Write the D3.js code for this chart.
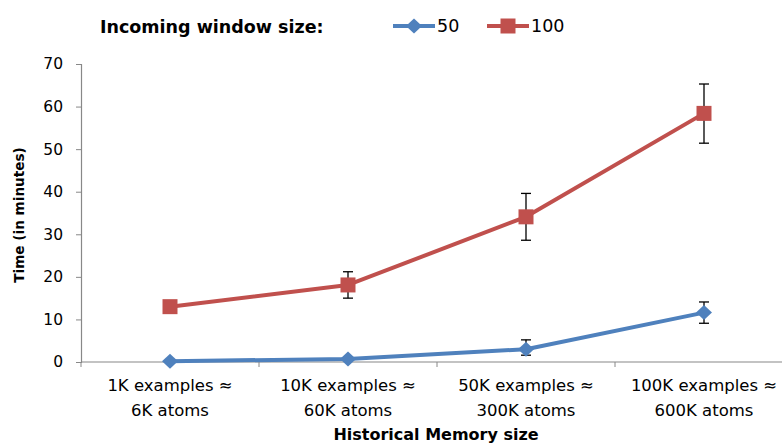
<!DOCTYPE html>
<html>
<head>
<meta charset="utf-8">
<script src="https://cdn.jsdelivr.net/npm/d3@7"></script>
<style>
  body { margin: 0; background: #fff; }
  svg { display: block; font-family: "DejaVu Sans", sans-serif; }
</style>
</head>
<body>
<div id="chart"></div>
<script>
const WIDTH = 782;
const HEIGHT = 444;

const categories = [
  ["1K examples \u2248", "6K atoms"],
  ["10K examples \u2248", "60K atoms"],
  ["50K examples \u2248", "300K atoms"],
  ["100K examples \u2248", "600K atoms"]
];
const yTicks = [0, 10, 20, 30, 40, 50, 60, 70];

const series50 = [0.2, 0.7, 3.0, 11.6];
const err50Low = [0.2, 0.7, 1.6, 9.1];
const err50High = [0.2, 0.7, 5.2, 14.1];

const series100 = [13.0, 18.1, 34.1, 58.4];
const err100Low = [13.0, 15.0, 28.6, 51.4];
const err100High = [13.0, 21.2, 39.6, 65.3];

const BLUE = "#4F81BD";
const RED = "#C0504D";
const AXIS = "#888";

const margin = { left: 81, top: 64, bottom: 82 };
const plotBottom = HEIGHT - margin.bottom; // 362

const svg = d3.select("#chart").append("svg")
  .attr("width", WIDTH)
  .attr("height", HEIGHT);

const x = d3.scaleBand()
  .domain(d3.range(categories.length))
  .range([margin.left, margin.left + 178 * categories.length])
  .padding(0);

const y = d3.scaleLinear()
  .domain([0, 70])
  .range([plotBottom, margin.top]);

// y axis
const yAxis = svg.append("g")
  .attr("transform", `translate(${margin.left},0)`)
  .call(d3.axisLeft(y).tickValues(yTicks).tickSize(5).tickPadding(13));
yAxis.select(".domain").attr("stroke", AXIS).attr("stroke-width", 1.2);
yAxis.selectAll(".tick line").attr("stroke", AXIS);
yAxis.selectAll(".tick text")
  .attr("font-size", 15.5)
  .attr("fill", "#000")
  .attr("font-family", "DejaVu Sans, sans-serif");

// x axis line and category boundary ticks
const xg = svg.append("g");
xg.append("line")
  .attr("x1", margin.left).attr("x2", WIDTH)
  .attr("y1", y(0)).attr("y2", y(0))
  .attr("stroke", AXIS).attr("stroke-width", 1.2);
xg.selectAll("line.tk")
  .data(d3.range(categories.length + 1))
  .join("line")
  .attr("class", "tk")
  .attr("x1", i => margin.left + x.step() * i)
  .attr("x2", i => margin.left + x.step() * i)
  .attr("y1", y(0)).attr("y2", y(0) + 5)
  .attr("stroke", AXIS);

const xLabels = xg.selectAll("text.cat")
  .data(categories)
  .join("text")
  .attr("class", "cat")
  .attr("text-anchor", "middle")
  .attr("font-size", 16.5)
  .attr("fill", "#000");
xLabels.selectAll("tspan")
  .data((d, i) => d.map(t => ({ t, i })))
  .join("tspan")
  .attr("x", d => x(d.i) + x.bandwidth() / 2)
  .attr("y", (d, j) => 391 + j * 25)
  .text(d => d.t);

// axis titles
svg.append("text")
  .attr("x", 436).attr("y", 440)
  .attr("text-anchor", "middle")
  .attr("font-size", 16)
  .attr("font-weight", "bold")
  .text("Historical Memory size");

svg.append("text")
  .attr("transform", `translate(24,${(y(0) + y(70)) / 2 + 2}) rotate(-90)`)
  .attr("text-anchor", "middle")
  .attr("font-size", 13.6)
  .attr("font-weight", "bold")
  .text("Time (in minutes)");

const cx = i => x(i) + x.bandwidth() / 2;

const line = d3.line()
  .x((d, i) => cx(i))
  .y(d => y(d));

function drawSeries(values, lo, hi, color, shape) {
  const g = svg.append("g");
  g.append("path")
    .datum(values)
    .attr("d", line)
    .attr("fill", "none")
    .attr("stroke", color)
    .attr("stroke-width", 4)
    .attr("stroke-linejoin", "round");

  const eb = g.selectAll("g.err")
    .data(values.map((v, i) => ({ i, lo: lo[i], hi: hi[i] })).filter(d => d.hi - d.lo > 0.5))
    .join("g").attr("class", "err");
  eb.append("line")
    .attr("x1", d => cx(d.i)).attr("x2", d => cx(d.i))
    .attr("y1", d => y(d.lo)).attr("y2", d => y(d.hi))
    .attr("stroke", "#000").attr("stroke-width", 1.3);
  eb.append("line")
    .attr("x1", d => cx(d.i) - 5).attr("x2", d => cx(d.i) + 5)
    .attr("y1", d => y(d.lo)).attr("y2", d => y(d.lo))
    .attr("stroke", "#000").attr("stroke-width", 1.3);
  eb.append("line")
    .attr("x1", d => cx(d.i) - 5).attr("x2", d => cx(d.i) + 5)
    .attr("y1", d => y(d.hi)).attr("y2", d => y(d.hi))
    .attr("stroke", "#000").attr("stroke-width", 1.3);

  g.selectAll("path.mk")
    .data(values)
    .join("path")
    .attr("class", "mk")
    .attr("transform", (d, i) => `translate(${cx(i)},${y(d)})`)
    .attr("d", shape)
    .attr("fill", color);
}

const diamond = "M0,-7.5L8,0L0,7.5L-8,0Z";
const square = "M-7.5,-7.5H7.5V7.5H-7.5Z";

drawSeries(series50, err50Low, err50High, BLUE, diamond);
drawSeries(series100, err100Low, err100High, RED, square);

// legend
const lg = svg.append("g");
lg.append("text")
  .attr("x", 100).attr("y", 33)
  .attr("font-size", 17.5)
  .attr("font-weight", "bold")
  .text("Incoming window size:");

const legendItems = [
  { label: "50", color: BLUE, shape: diamond, x0: 393 },
  { label: "100", color: RED, shape: square, x0: 487 }
];
const li = lg.selectAll("g.item").data(legendItems).join("g").attr("class", "item");
li.append("line")
  .attr("x1", d => d.x0).attr("x2", d => d.x0 + 42)
  .attr("y1", 26).attr("y2", 26)
  .attr("stroke", d => d.color).attr("stroke-width", 4);
li.append("path")
  .attr("transform", d => `translate(${d.x0 + 21},26)`)
  .attr("d", d => d.shape)
  .attr("fill", d => d.color);
li.append("text")
  .attr("x", d => d.x0 + 44).attr("y", 32)
  .attr("font-size", 17.5)
  .text(d => d.label);
</script>
</body>
</html>
